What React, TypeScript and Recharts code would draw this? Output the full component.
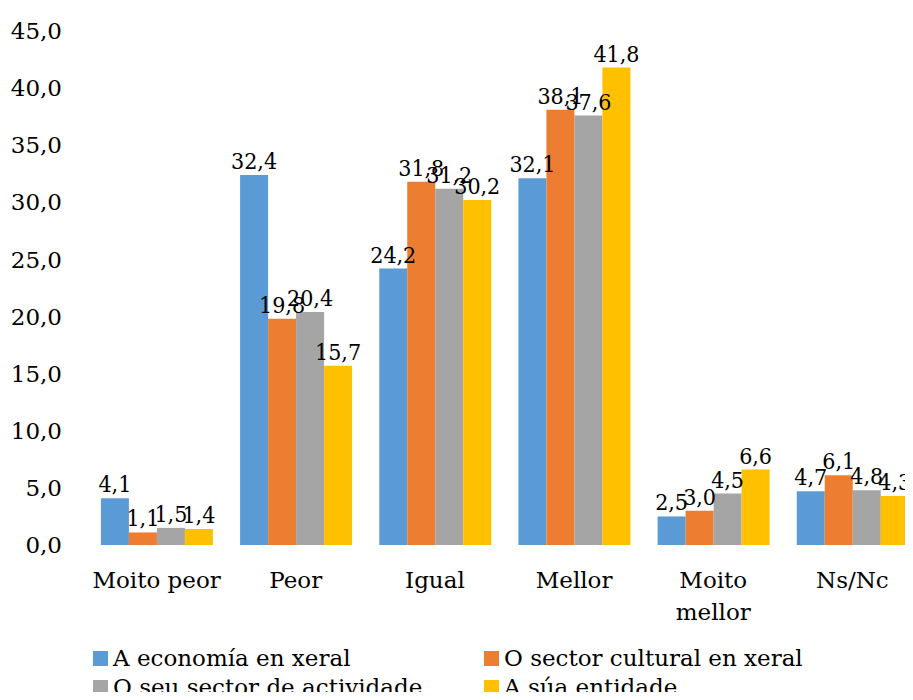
import { BarChart, Bar, XAxis, YAxis, LabelList } from 'recharts';

// Categorías e series
const categories = ['Moito peor', 'Peor', 'Igual', 'Mellor', 'Moito mellor', 'Ns/Nc'];
const categoryLines = [['Moito peor'], ['Peor'], ['Igual'], ['Mellor'], ['Moito', 'mellor'], ['Ns/Nc']];

const economia = [4.1, 32.4, 24.2, 32.1, 2.5, 4.7];
const sectorCultural = [1.1, 19.8, 31.8, 38.1, 3.0, 6.1];
const seuSector = [1.5, 20.4, 31.2, 37.6, 4.5, 4.8];
const suaEntidade = [1.4, 15.7, 30.2, 41.8, 6.6, 4.3];

const yTicks = [0, 5, 10, 15, 20, 25, 30, 35, 40, 45];

const seriesNames = [
  'A economía en xeral',
  'O sector cultural en xeral',
  'O seu sector de actividade',
  'A súa entidade',
];
const COLORS = ['#5B9BD5', '#ED7D31', '#A5A5A5', '#FFC000'];
const KEYS = ['economia', 'sectorCultural', 'seuSector', 'suaEntidade'];

const FONT = '"DejaVu Serif", serif';
const FONT_NUM = '"DejaVu Serif Condensed", "DejaVu Serif", serif';

const data = categories.map((name, i) => ({
  name,
  economia: economia[i],
  sectorCultural: sectorCultural[i],
  seuSector: seuSector[i],
  suaEntidade: suaEntidade[i],
}));

const fmt = (v: any) => Number(v).toFixed(1).replace('.', ',');

// Etiqueta do eixo X en varias liñas
const CategoryTick = ({ x, y, payload, index }: any) => {
  const lines = categoryLines[index] ?? [payload.value];
  return (
    <text x={x} y={y} textAnchor="middle" fill="#000" fontSize={23} fontFamily={FONT}>
      {lines.map((l: string, k: number) => (
        <tspan key={k} x={x} dy={k === 0 ? 43 : 32}>
          {l}
        </tspan>
      ))}
    </text>
  );
};

export default function App() {
  return (
    <div style={{ position: 'relative', width: 913, height: 700, margin: -8, overflow: 'hidden', background: '#fff' }}>
      <BarChart
        width={923}
        height={640}
        data={data}
        margin={{ top: 31, right: 1, bottom: 0, left: 0 }}
        barCategoryGap="10%"
        barGap={0}
      >
        <XAxis
          dataKey="name"
          axisLine={false}
          tickLine={false}
          tickSize={0}
          tickMargin={0}
          height={95}
          interval={0}
          tick={<CategoryTick />}
        />
        <YAxis
          domain={[0, 45]}
          ticks={yTicks}
          width={87}
          axisLine={false}
          tickLine={false}
          tickSize={0}
          tickMargin={25}
          tickFormatter={fmt}
          tick={{ fill: '#000', fontSize: 23, fontFamily: FONT }}
        />
        {KEYS.map((k, i) => (
          <Bar key={k} dataKey={k} name={seriesNames[i]} fill={COLORS[i]} isAnimationActive={false}>
            <LabelList
              dataKey={k}
              position="top"
              offset={6}
              formatter={fmt}
              fill="#000"
              fontSize={23}
              fontFamily={FONT_NUM}
              style={{ fontStretch: 'condensed' }}
            />
          </Bar>
        ))}
      </BarChart>

      {/* Lenda en dúas columnas */}
      <div style={{ position: 'absolute', left: 93, top: 644, width: 800, fontFamily: FONT, fontSize: 23, color: '#000' }}>
        {seriesNames.map((n, i) => (
          <div
            key={n}
            style={{
              position: 'absolute',
              left: i % 2 === 0 ? 0 : 391,
              top: i < 2 ? 0 : 29,
              display: 'flex',
              alignItems: 'center',
              whiteSpace: 'nowrap',
              lineHeight: '28px',
            }}
          >
            <span style={{ display: 'inline-block', width: 15, height: 15, background: COLORS[i], marginRight: 5 }} />
            {n}
          </div>
        ))}
      </div>
    </div>
  );
}
